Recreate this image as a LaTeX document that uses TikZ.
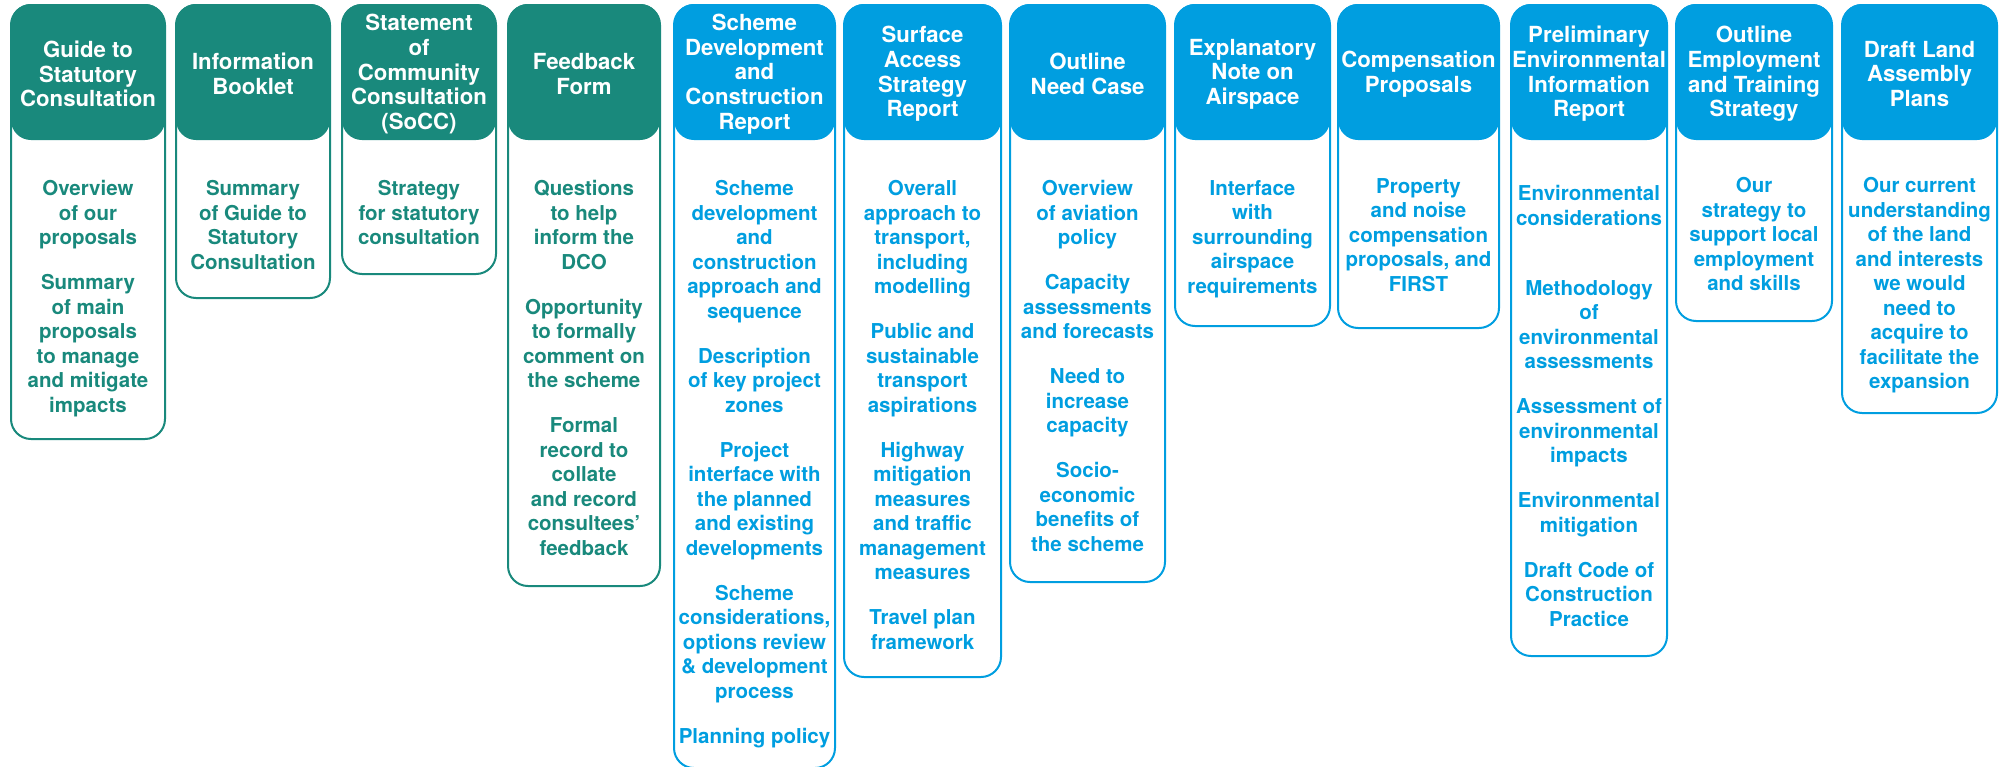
\documentclass[tikz,border=0pt]{standalone}
\usepackage{fontspec}
\setmainfont{TeX Gyre Heros}

\definecolor{dteal}{RGB}{25,137,124}
\definecolor{dblue}{RGB}{0,158,224}

\tikzset{
  shell/.style={line width=1pt, rounded corners=10pt},
  headfill/.style={rounded corners=10pt},
  headtxt/.style={text=white, align=center, inner sep=0pt,
    font={\fontsize{11.1pt}{12.3pt}\selectfont\bfseries}},
  bodytxt/.style={align=center, inner sep=0pt, anchor=north,
    font={\fontsize{10.25pt}{12.25pt}\selectfont\bfseries}}
}

% one document column: #1 name, #2 left, #3 right, #4 bottom, #5 colour,
% #6 title, #7 description, #8 top of the description text
\newcommand\doccol[8]{%
  \draw[shell, #5] (#2,5) rectangle (#3,#4);
  \fill[headfill, #5] (#2,4) rectangle (#3,140);
  \node[headtxt] (#1h) at ({(#2+#3)/2},74) {#6};
  \node[bodytxt, text=#5] (#1b) at ({(#2+#3)/2},#8) {#7};
}

\newcommand\gap{\\[10.25pt]}

\begin{document}
\begin{tikzpicture}[x=0.5pt,y=-0.5pt]
\useasboundingbox (0,0) rectangle (2006,766);

\doccol{guide}{11}{165}{439}{dteal}
  {Guide to\\Statutory\\Consultation}
  {Overview\\of our\\proposals\gap
   Summary\\of main\\proposals\\to manage\\and mitigate\\impacts}{180}

\doccol{booklet}{176}{330}{298}{dteal}
  {Information\\Booklet}
  {Summary\\of Guide to\\Statutory\\Consultation}{180}

\doccol{socc}{342}{496}{274}{dteal}
  {Statement\\of\\Community\\Consultation\\(SoCC)}
  {Strategy\\for statutory\\consultation}{180}

\doccol{feedback}{508}{660}{586}{dteal}
  {Feedback\\Form}
  {Questions\\to help\\inform the\\DCO\gap
   Opportunity\\to formally\\comment on\\the scheme\gap
   Formal\\record to\\collate\\and record\\consultees’\\feedback}{180}

\doccol{scheme}{674}{835}{768}{dblue}
  {Scheme\\Development\\and\\Construction\\Report}
  {Scheme\\development\\and\\construction\\approach and\\sequence\gap
   Description\\of key project\\zones\gap
   Project\\interface with\\the planned\\and existing\\developments\gap
   Scheme\\considerations,\\options review\\\& development\\process\gap
   Planning policy}{180}

\doccol{surface}{844}{1001}{677}{dblue}
  {Surface\\Access\\Strategy\\Report}
  {Overall\\approach to\\transport,\\including\\modelling\gap
   Public and\\sustainable\\transport\\aspirations\gap
   Highway\\mitigation\\measures\\and traffic\\management\\measures\gap
   Travel plan\\framework}{180}

\doccol{need}{1010}{1165}{582}{dblue}
  {Outline\\Need Case}
  {Overview\\of aviation\\policy\gap
   Capacity\\assessments\\and forecasts\gap
   Need to\\increase\\capacity\gap
   Socio-\\economic\\benefits of\\the scheme}{180}

\doccol{airspace}{1175}{1330}{326}{dblue}
  {Explanatory\\Note on\\Airspace}
  {Interface\\with\\surrounding\\airspace\\requirements}{180}

\doccol{comp}{1338}{1499}{328}{dblue}
  {Compensation\\Proposals}
  {Property\\and noise\\compensation\\proposals, and\\FIRST}{178}

\doccol{peir}{1511}{1667}{656}{dblue}
  {Preliminary\\Environmental\\Information\\Report}
  {Environmental\\considerations\\[22.75pt]
   Methodology\\of\\environmental\\assessments\gap
   Assessment of\\environmental\\impacts\gap
   Environmental\\mitigation\gap
   Draft Code of\\Construction\\Practice}{185}

\doccol{employ}{1676}{1832}{321}{dblue}
  {Outline\\Employment\\and Training\\Strategy}
  {Our\\strategy to\\support local\\employment\\and skills}{177}

\doccol{land}{1842}{1997}{413}{dblue}
  {Draft Land\\Assembly\\Plans}
  {Our current\\understanding\\of the land\\and interests\\we would\\need to\\acquire to\\facilitate the\\expansion}{177}

\end{tikzpicture}
\end{document}
